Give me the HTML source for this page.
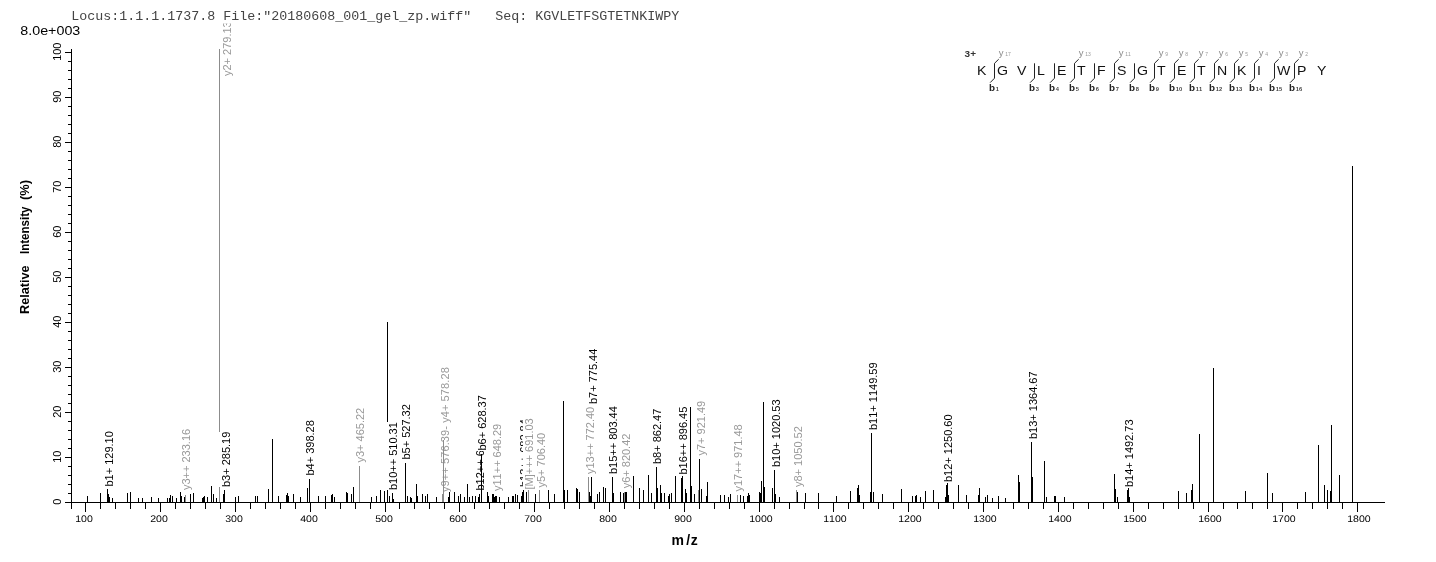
<!DOCTYPE html>
<html><head><meta charset="utf-8"><title>Spectrum</title>
<style>html,body{margin:0;padding:0;background:#fff}body{width:1436px;height:562px;overflow:hidden;position:relative}</style>
</head><body>
<svg width="1436" height="562" viewBox="0 0 1436 562" style="position:absolute;left:0;top:0;font-family:'Liberation Sans',Arial,sans-serif;font-kerning:none">
<rect width="1436" height="562" fill="#fff"/>
<g shape-rendering="crispEdges">
<rect x="87" y="496" width="1" height="6" fill="#000"/>
<rect x="100" y="493" width="1" height="9" fill="#000"/>
<rect x="107" y="489" width="1" height="13" fill="#000"/>
<rect x="102.0" y="431.1" width="13.0" height="55.4" fill="#fff"/>
<text shape-rendering="auto"  transform="translate(112.5,486.5) rotate(-90) scale(0.948,1)" font-size="11.6" fill="#000">b1+ 129.10</text>
<rect x="108" y="494" width="1" height="8" fill="#000"/>
<rect x="109" y="497" width="1" height="5" fill="#000"/>
<rect x="112" y="498" width="1" height="4" fill="#000"/>
<rect x="127" y="493" width="1" height="9" fill="#000"/>
<rect x="130" y="492" width="1" height="10" fill="#000"/>
<rect x="138" y="498" width="1" height="4" fill="#000"/>
<rect x="142" y="498" width="1" height="4" fill="#000"/>
<rect x="151" y="497" width="1" height="5" fill="#000"/>
<rect x="158" y="498" width="1" height="4" fill="#000"/>
<rect x="167" y="498" width="1" height="4" fill="#000"/>
<rect x="169" y="498" width="1" height="4" fill="#000"/>
<rect x="170" y="495" width="1" height="7" fill="#000"/>
<rect x="172" y="496" width="1" height="6" fill="#000"/>
<rect x="176" y="498" width="1" height="4" fill="#000"/>
<rect x="180" y="492" width="1" height="10" fill="#000"/>
<rect x="181" y="496" width="1" height="6" fill="#000"/>
<rect x="184" y="497" width="1" height="5" fill="#000"/>
<rect x="185" y="495" width="1" height="7" fill="#8c8c8c"/>
<rect x="179.5" y="428.8" width="13.0" height="61.2" fill="#fff"/>
<text shape-rendering="auto"  transform="translate(190,490) rotate(-90) scale(0.948,1)" font-size="11.6" fill="#999">y3++ 233.16</text>
<rect x="190" y="494" width="1" height="8" fill="#000"/>
<rect x="193" y="493" width="1" height="9" fill="#000"/>
<rect x="202" y="498" width="1" height="4" fill="#000"/>
<rect x="203" y="497" width="1" height="5" fill="#000"/>
<rect x="204" y="496" width="1" height="6" fill="#000"/>
<rect x="207" y="497" width="1" height="5" fill="#000"/>
<rect x="211" y="486" width="1" height="16" fill="#000"/>
<rect x="213" y="494" width="1" height="8" fill="#000"/>
<rect x="216" y="498" width="1" height="4" fill="#000"/>
<rect x="219" y="49" width="1" height="453" fill="#8c8c8c"/>
<rect x="220.5" y="21.3" width="13.0" height="54.7" fill="#fff"/>
<text shape-rendering="auto"  transform="translate(231,76) rotate(-90) scale(0.948,1)" font-size="11.6" fill="#999">y2+ 279.13</text>
<rect x="223" y="494" width="1" height="8" fill="#000"/>
<rect x="224" y="490" width="1" height="12" fill="#000"/>
<rect x="219.0" y="431.6" width="13.0" height="55.4" fill="#fff"/>
<text shape-rendering="auto"  transform="translate(229.5,487) rotate(-90) scale(0.948,1)" font-size="11.6" fill="#000">b3+ 285.19</text>
<rect x="235" y="497" width="1" height="5" fill="#000"/>
<rect x="238" y="496" width="1" height="6" fill="#000"/>
<rect x="255" y="496" width="1" height="6" fill="#000"/>
<rect x="257" y="496" width="1" height="6" fill="#000"/>
<rect x="268" y="489" width="1" height="13" fill="#000"/>
<rect x="272" y="439" width="1" height="63" fill="#000"/>
<rect x="278" y="496" width="1" height="6" fill="#000"/>
<rect x="286" y="495" width="1" height="7" fill="#000"/>
<rect x="287" y="493" width="1" height="9" fill="#000"/>
<rect x="288" y="496" width="1" height="6" fill="#000"/>
<rect x="293" y="494" width="1" height="8" fill="#000"/>
<rect x="300" y="497" width="1" height="5" fill="#000"/>
<rect x="307" y="488" width="1" height="14" fill="#000"/>
<rect x="309" y="479" width="1" height="23" fill="#000"/>
<rect x="303.8" y="420.1" width="13.0" height="55.4" fill="#fff"/>
<text shape-rendering="auto"  transform="translate(314.3,475.5) rotate(-90) scale(0.948,1)" font-size="11.6" fill="#000">b4+ 398.28</text>
<rect x="318" y="496" width="1" height="6" fill="#000"/>
<rect x="325" y="496" width="1" height="6" fill="#000"/>
<rect x="331" y="495" width="1" height="7" fill="#000"/>
<rect x="332" y="494" width="1" height="8" fill="#000"/>
<rect x="334" y="497" width="1" height="5" fill="#000"/>
<rect x="346" y="492" width="1" height="10" fill="#000"/>
<rect x="347" y="493" width="1" height="9" fill="#000"/>
<rect x="351" y="494" width="1" height="8" fill="#000"/>
<rect x="353" y="487" width="1" height="15" fill="#000"/>
<rect x="359" y="466" width="1" height="36" fill="#8c8c8c"/>
<rect x="353.8" y="407.8" width="13.0" height="54.7" fill="#fff"/>
<text shape-rendering="auto"  transform="translate(364.3,462.5) rotate(-90) scale(0.948,1)" font-size="11.6" fill="#999">y3+ 465.22</text>
<rect x="371" y="497" width="1" height="5" fill="#000"/>
<rect x="376" y="496" width="1" height="6" fill="#000"/>
<rect x="380" y="490" width="1" height="12" fill="#000"/>
<rect x="384" y="491" width="1" height="11" fill="#000"/>
<rect x="387" y="322" width="1" height="180" fill="#000"/>
<rect x="389" y="496" width="1" height="6" fill="#000"/>
<rect x="392" y="493" width="1" height="9" fill="#000"/>
<rect x="386.5" y="422.1" width="13.0" height="67.9" fill="#fff"/>
<text shape-rendering="auto"  transform="translate(397,490) rotate(-90) scale(0.948,1)" font-size="11.6" fill="#000">b10++ 510.31</text>
<rect x="393" y="499" width="1" height="3" fill="#000"/>
<rect x="405" y="463" width="1" height="39" fill="#000"/>
<rect x="399.5" y="404.1" width="13.0" height="55.4" fill="#fff"/>
<text shape-rendering="auto"  transform="translate(410,459.5) rotate(-90) scale(0.948,1)" font-size="11.6" fill="#000">b5+ 527.32</text>
<rect x="407" y="496" width="1" height="6" fill="#000"/>
<rect x="410" y="497" width="1" height="5" fill="#000"/>
<rect x="411" y="498" width="1" height="4" fill="#000"/>
<rect x="416" y="484" width="1" height="18" fill="#000"/>
<rect x="417" y="496" width="1" height="6" fill="#000"/>
<rect x="422" y="494" width="1" height="8" fill="#000"/>
<rect x="425" y="496" width="1" height="6" fill="#000"/>
<rect x="427" y="494" width="1" height="8" fill="#000"/>
<rect x="436" y="497" width="1" height="5" fill="#000"/>
<rect x="438.1" y="367.2" width="13.0" height="124.8" fill="#fff"/>
<text shape-rendering="auto" textLength="131.6" lengthAdjust="spacing"  transform="translate(448.6,492) rotate(-90) scale(0.948,1)" font-size="11.6" fill="#999">y9++ 576.39- y4+ 578.28</text>
<rect x="442" y="494" width="1" height="8" fill="#8c8c8c"/>
<rect x="443" y="440" width="1" height="62" fill="#8c8c8c"/>
<rect x="448" y="497" width="1" height="5" fill="#000"/>
<rect x="449" y="492" width="1" height="10" fill="#000"/>
<rect x="454" y="492" width="1" height="10" fill="#000"/>
<rect x="458" y="496" width="1" height="6" fill="#000"/>
<rect x="460" y="494" width="1" height="8" fill="#000"/>
<rect x="464" y="497" width="1" height="5" fill="#000"/>
<rect x="467" y="484" width="1" height="18" fill="#000"/>
<rect x="469" y="497" width="1" height="5" fill="#000"/>
<rect x="472" y="496" width="1" height="6" fill="#000"/>
<rect x="475" y="496" width="1" height="6" fill="#000"/>
<rect x="478" y="497" width="1" height="5" fill="#000"/>
<rect x="479" y="494" width="1" height="8" fill="#000"/>
<rect x="473.0" y="422.6" width="13.0" height="67.9" fill="#fff"/>
<text shape-rendering="auto"  transform="translate(483.5,490.5) rotate(-90) scale(0.948,1)" font-size="11.6" fill="#000">b12++ 625.80</text>
<rect x="481" y="454" width="1" height="48" fill="#000"/>
<rect x="475.8" y="395.1" width="13.0" height="55.4" fill="#fff"/>
<text shape-rendering="auto"  transform="translate(486.3,450.5) rotate(-90) scale(0.948,1)" font-size="11.6" fill="#000">b6+ 628.37</text>
<rect x="487" y="492" width="1" height="10" fill="#000"/>
<rect x="488" y="496" width="1" height="6" fill="#000"/>
<rect x="492" y="494" width="1" height="8" fill="#000"/>
<rect x="493" y="494" width="1" height="8" fill="#000"/>
<rect x="494" y="497" width="1" height="5" fill="#000"/>
<rect x="495" y="496" width="1" height="6" fill="#000"/>
<rect x="490.0" y="423.7" width="13.0" height="67.3" fill="#fff"/>
<text shape-rendering="auto"  transform="translate(500.5,491) rotate(-90) scale(0.948,1)" font-size="11.6" fill="#999">y11++ 648.29</text>
<rect x="496" y="496" width="1" height="6" fill="#000"/>
<rect x="499" y="497" width="1" height="5" fill="#000"/>
<rect x="508" y="497" width="1" height="5" fill="#000"/>
<rect x="512" y="496" width="1" height="6" fill="#000"/>
<rect x="513" y="496" width="1" height="6" fill="#000"/>
<rect x="515" y="494" width="1" height="8" fill="#000"/>
<rect x="517" y="495" width="1" height="7" fill="#000"/>
<rect x="521" y="496" width="1" height="6" fill="#000"/>
<rect x="522" y="492" width="1" height="10" fill="#000"/>
<rect x="523" y="490" width="1" height="12" fill="#000"/>
<rect x="517.1" y="419.1" width="13.0" height="67.9" fill="#fff"/>
<text shape-rendering="auto"  transform="translate(527.6,487) rotate(-90) scale(0.948,1)" font-size="11.6" fill="#000">b13++ 682.84</text>
<rect x="526" y="492" width="1" height="10" fill="#000"/>
<rect x="528" y="490" width="1" height="12" fill="#8c8c8c"/>
<rect x="523.3" y="418.3" width="11.7" height="71.2" fill="#fff"/>
<text shape-rendering="auto"  transform="translate(532.5,489.5) rotate(-90) scale(0.948,1)" font-size="11.6" fill="#999">[M]+++ 691.03</text>
<rect x="535" y="494" width="1" height="8" fill="#000"/>
<rect x="539" y="490" width="1" height="12" fill="#8c8c8c"/>
<rect x="534.5" y="432.8" width="13.0" height="54.7" fill="#fff"/>
<text shape-rendering="auto"  transform="translate(545,487.5) rotate(-90) scale(0.948,1)" font-size="11.6" fill="#999">y5+ 706.40</text>
<rect x="548" y="490" width="1" height="12" fill="#000"/>
<rect x="554" y="494" width="1" height="8" fill="#000"/>
<rect x="563" y="401" width="1" height="101" fill="#000"/>
<rect x="564" y="490" width="1" height="12" fill="#000"/>
<rect x="567" y="490" width="1" height="12" fill="#000"/>
<rect x="576" y="488" width="1" height="14" fill="#000"/>
<rect x="577" y="489" width="1" height="13" fill="#000"/>
<rect x="579" y="492" width="1" height="10" fill="#000"/>
<rect x="588" y="477" width="1" height="25" fill="#8c8c8c"/>
<rect x="583.8" y="406.7" width="13.0" height="67.3" fill="#fff"/>
<text shape-rendering="auto"  transform="translate(594.3,474) rotate(-90) scale(0.948,1)" font-size="11.6" fill="#999">y13++ 772.40</text>
<rect x="589" y="492" width="1" height="10" fill="#000"/>
<rect x="590" y="496" width="1" height="6" fill="#000"/>
<rect x="591" y="477" width="1" height="25" fill="#000"/>
<rect x="586.0" y="348.6" width="13.0" height="55.4" fill="#fff"/>
<text shape-rendering="auto"  transform="translate(596.5,404) rotate(-90) scale(0.948,1)" font-size="11.6" fill="#000">b7+ 775.44</text>
<rect x="597" y="494" width="1" height="8" fill="#000"/>
<rect x="599" y="492" width="1" height="10" fill="#000"/>
<rect x="603" y="487" width="1" height="15" fill="#000"/>
<rect x="605" y="488" width="1" height="14" fill="#000"/>
<rect x="612" y="477" width="1" height="25" fill="#000"/>
<rect x="606.5" y="406.1" width="13.0" height="67.9" fill="#fff"/>
<text shape-rendering="auto"  transform="translate(617,474) rotate(-90) scale(0.948,1)" font-size="11.6" fill="#000">b15++ 803.44</text>
<rect x="613" y="493" width="1" height="9" fill="#000"/>
<rect x="620" y="492" width="1" height="10" fill="#000"/>
<rect x="623" y="493" width="1" height="9" fill="#000"/>
<rect x="624" y="492" width="1" height="10" fill="#8c8c8c"/>
<rect x="619.0" y="433.6" width="13.0" height="54.7" fill="#fff"/>
<text shape-rendering="auto"  transform="translate(629.5,488.3) rotate(-90) scale(0.948,1)" font-size="11.6" fill="#999">y6+ 820.42</text>
<rect x="625" y="492" width="1" height="10" fill="#000"/>
<rect x="626" y="492" width="1" height="10" fill="#000"/>
<rect x="633" y="476" width="1" height="26" fill="#000"/>
<rect x="639" y="488" width="1" height="14" fill="#000"/>
<rect x="643" y="490" width="1" height="12" fill="#000"/>
<rect x="648" y="475" width="1" height="27" fill="#000"/>
<rect x="651" y="493" width="1" height="9" fill="#000"/>
<rect x="656" y="467" width="1" height="35" fill="#000"/>
<rect x="650.5" y="408.6" width="13.0" height="55.4" fill="#fff"/>
<text shape-rendering="auto"  transform="translate(661,464) rotate(-90) scale(0.948,1)" font-size="11.6" fill="#000">b8+ 862.47</text>
<rect x="657" y="488" width="1" height="14" fill="#000"/>
<rect x="660" y="485" width="1" height="17" fill="#000"/>
<rect x="661" y="493" width="1" height="9" fill="#000"/>
<rect x="664" y="493" width="1" height="9" fill="#000"/>
<rect x="668" y="496" width="1" height="6" fill="#000"/>
<rect x="669" y="494" width="1" height="8" fill="#000"/>
<rect x="671" y="493" width="1" height="9" fill="#000"/>
<rect x="675" y="476" width="1" height="26" fill="#000"/>
<rect x="681" y="478" width="1" height="24" fill="#000"/>
<rect x="682" y="476" width="1" height="26" fill="#000"/>
<rect x="676.0" y="406.6" width="13.0" height="67.9" fill="#fff"/>
<text shape-rendering="auto"  transform="translate(686.5,474.5) rotate(-90) scale(0.948,1)" font-size="11.6" fill="#000">b16++ 896.45</text>
<rect x="685" y="489" width="1" height="13" fill="#000"/>
<rect x="686" y="493" width="1" height="9" fill="#000"/>
<rect x="690" y="407" width="1" height="95" fill="#000"/>
<rect x="691" y="486" width="1" height="16" fill="#000"/>
<rect x="694" y="494" width="1" height="8" fill="#000"/>
<rect x="698" y="490" width="1" height="12" fill="#8c8c8c"/>
<rect x="699" y="459" width="1" height="43" fill="#000"/>
<rect x="694.5" y="400.8" width="13.0" height="54.7" fill="#fff"/>
<text shape-rendering="auto"  transform="translate(705,455.5) rotate(-90) scale(0.948,1)" font-size="11.6" fill="#999">y7+ 921.49</text>
<rect x="701" y="489" width="1" height="13" fill="#000"/>
<rect x="706" y="496" width="1" height="6" fill="#000"/>
<rect x="707" y="482" width="1" height="20" fill="#000"/>
<rect x="720" y="495" width="1" height="7" fill="#000"/>
<rect x="724" y="495" width="1" height="7" fill="#000"/>
<rect x="728" y="497" width="1" height="5" fill="#000"/>
<rect x="730" y="494" width="1" height="8" fill="#000"/>
<rect x="737" y="495" width="1" height="7" fill="#8c8c8c"/>
<rect x="731.5" y="424.2" width="13.0" height="67.3" fill="#fff"/>
<text shape-rendering="auto"  transform="translate(742,491.5) rotate(-90) scale(0.948,1)" font-size="11.6" fill="#999">y17++ 971.48</text>
<rect x="740" y="495" width="1" height="7" fill="#000"/>
<rect x="743" y="496" width="1" height="6" fill="#000"/>
<rect x="747" y="496" width="1" height="6" fill="#000"/>
<rect x="748" y="493" width="1" height="9" fill="#000"/>
<rect x="749" y="495" width="1" height="7" fill="#000"/>
<rect x="759" y="492" width="1" height="10" fill="#000"/>
<rect x="760" y="493" width="1" height="9" fill="#000"/>
<rect x="761" y="481" width="1" height="21" fill="#000"/>
<rect x="763" y="402" width="1" height="100" fill="#000"/>
<rect x="764" y="487" width="1" height="15" fill="#000"/>
<rect x="772" y="488" width="1" height="14" fill="#000"/>
<rect x="774" y="470" width="1" height="32" fill="#000"/>
<rect x="769.0" y="399.4" width="13.0" height="67.6" fill="#fff"/>
<text shape-rendering="auto"  transform="translate(779.5,467) rotate(-90) scale(0.948,1)" font-size="11.6" fill="#000">b10+ 1020.53</text>
<rect x="775" y="494" width="1" height="8" fill="#000"/>
<rect x="779" y="497" width="1" height="5" fill="#000"/>
<rect x="796" y="490" width="1" height="12" fill="#8c8c8c"/>
<rect x="791.5" y="426.1" width="13.0" height="60.9" fill="#fff"/>
<text shape-rendering="auto"  transform="translate(802,487) rotate(-90) scale(0.948,1)" font-size="11.6" fill="#999">y8+ 1050.52</text>
<rect x="797" y="492" width="1" height="10" fill="#000"/>
<rect x="805" y="493" width="1" height="9" fill="#000"/>
<rect x="818" y="493" width="1" height="9" fill="#000"/>
<rect x="836" y="496" width="1" height="6" fill="#000"/>
<rect x="850" y="491" width="1" height="11" fill="#000"/>
<rect x="857" y="488" width="1" height="14" fill="#000"/>
<rect x="858" y="485" width="1" height="17" fill="#000"/>
<rect x="859" y="495" width="1" height="7" fill="#000"/>
<rect x="870" y="492" width="1" height="10" fill="#000"/>
<rect x="871" y="433" width="1" height="69" fill="#000"/>
<rect x="866.0" y="362.4" width="13.0" height="67.6" fill="#fff"/>
<text shape-rendering="auto"  transform="translate(876.5,430) rotate(-90) scale(0.948,1)" font-size="11.6" fill="#000">b11+ 1149.59</text>
<rect x="873" y="492" width="1" height="10" fill="#000"/>
<rect x="882" y="494" width="1" height="8" fill="#000"/>
<rect x="901" y="489" width="1" height="13" fill="#000"/>
<rect x="912" y="496" width="1" height="6" fill="#000"/>
<rect x="915" y="496" width="1" height="6" fill="#000"/>
<rect x="916" y="495" width="1" height="7" fill="#000"/>
<rect x="920" y="497" width="1" height="5" fill="#000"/>
<rect x="925" y="491" width="1" height="11" fill="#000"/>
<rect x="933" y="490" width="1" height="12" fill="#000"/>
<rect x="945" y="497" width="1" height="5" fill="#000"/>
<rect x="946" y="485" width="1" height="17" fill="#000"/>
<rect x="947" y="483" width="1" height="19" fill="#000"/>
<rect x="941.3" y="414.4" width="13.0" height="67.6" fill="#fff"/>
<text shape-rendering="auto"  transform="translate(951.8,482) rotate(-90) scale(0.948,1)" font-size="11.6" fill="#000">b12+ 1250.60</text>
<rect x="948" y="495" width="1" height="7" fill="#000"/>
<rect x="958" y="485" width="1" height="17" fill="#000"/>
<rect x="966" y="495" width="1" height="7" fill="#000"/>
<rect x="978" y="495" width="1" height="7" fill="#000"/>
<rect x="979" y="488" width="1" height="14" fill="#000"/>
<rect x="985" y="497" width="1" height="5" fill="#000"/>
<rect x="987" y="495" width="1" height="7" fill="#000"/>
<rect x="992" y="498" width="1" height="4" fill="#000"/>
<rect x="998" y="496" width="1" height="6" fill="#000"/>
<rect x="1005" y="498" width="1" height="4" fill="#000"/>
<rect x="1018" y="475" width="1" height="27" fill="#000"/>
<rect x="1019" y="482" width="1" height="20" fill="#000"/>
<rect x="1031" y="442" width="1" height="60" fill="#000"/>
<rect x="1026.2" y="371.4" width="13.0" height="67.6" fill="#fff"/>
<text shape-rendering="auto"  transform="translate(1036.7,439) rotate(-90) scale(0.948,1)" font-size="11.6" fill="#000">b13+ 1364.67</text>
<rect x="1032" y="477" width="1" height="25" fill="#000"/>
<rect x="1044" y="461" width="1" height="41" fill="#000"/>
<rect x="1046" y="497" width="1" height="5" fill="#000"/>
<rect x="1054" y="496" width="1" height="6" fill="#000"/>
<rect x="1055" y="496" width="1" height="6" fill="#000"/>
<rect x="1064" y="497" width="1" height="5" fill="#000"/>
<rect x="1114" y="474" width="1" height="28" fill="#000"/>
<rect x="1115" y="489" width="1" height="13" fill="#000"/>
<rect x="1117" y="497" width="1" height="5" fill="#000"/>
<rect x="1127" y="490" width="1" height="12" fill="#000"/>
<rect x="1128" y="488" width="1" height="14" fill="#000"/>
<rect x="1122.0" y="419.4" width="13.0" height="67.6" fill="#fff"/>
<text shape-rendering="auto"  transform="translate(1132.5,487) rotate(-90) scale(0.948,1)" font-size="11.6" fill="#000">b14+ 1492.73</text>
<rect x="1129" y="497" width="1" height="5" fill="#000"/>
<rect x="1178" y="491" width="1" height="11" fill="#000"/>
<rect x="1186" y="493" width="1" height="9" fill="#000"/>
<rect x="1191" y="490" width="1" height="12" fill="#000"/>
<rect x="1192" y="484" width="1" height="18" fill="#000"/>
<rect x="1199" y="434" width="1" height="68" fill="#000"/>
<rect x="1213" y="368" width="1" height="134" fill="#000"/>
<rect x="1245" y="491" width="1" height="11" fill="#000"/>
<rect x="1267" y="473" width="1" height="29" fill="#000"/>
<rect x="1272" y="493" width="1" height="9" fill="#000"/>
<rect x="1305" y="492" width="1" height="10" fill="#000"/>
<rect x="1318" y="445" width="1" height="57" fill="#000"/>
<rect x="1324" y="485" width="1" height="17" fill="#000"/>
<rect x="1327" y="490" width="1" height="12" fill="#000"/>
<rect x="1330" y="491" width="1" height="11" fill="#000"/>
<rect x="1331" y="425" width="1" height="77" fill="#000"/>
<rect x="1339" y="475" width="1" height="27" fill="#000"/>
<rect x="1352" y="166" width="1" height="336" fill="#000"/>
</g>
<rect x="68" y="4" width="616" height="19.5" fill="#fff"/>
<text x="71.3" y="20" font-family="'Liberation Mono',monospace" font-size="13.33" fill="#444" style="white-space:pre">Locus:1.1.1.1737.8 File:"20180608_001_gel_zp.wiff"   Seq: KGVLETFSGTETNKIWPY</text>
<g shape-rendering="crispEdges" fill="#000">
<rect x="71" y="49" width="1" height="460"/>
<rect x="71" y="502" width="1314" height="1"/>
<rect x="65" y="502" width="6" height="1"/>
<rect x="68" y="493" width="3" height="1"/>
<rect x="68" y="484" width="3" height="1"/>
<rect x="68" y="475" width="3" height="1"/>
<rect x="68" y="466" width="3" height="1"/>
<rect x="65" y="457" width="6" height="1"/>
<rect x="68" y="448" width="3" height="1"/>
<rect x="68" y="439" width="3" height="1"/>
<rect x="68" y="430" width="3" height="1"/>
<rect x="68" y="421" width="3" height="1"/>
<rect x="65" y="412" width="6" height="1"/>
<rect x="68" y="403" width="3" height="1"/>
<rect x="68" y="394" width="3" height="1"/>
<rect x="68" y="385" width="3" height="1"/>
<rect x="68" y="376" width="3" height="1"/>
<rect x="65" y="367" width="6" height="1"/>
<rect x="68" y="358" width="3" height="1"/>
<rect x="68" y="349" width="3" height="1"/>
<rect x="68" y="340" width="3" height="1"/>
<rect x="68" y="331" width="3" height="1"/>
<rect x="65" y="322" width="6" height="1"/>
<rect x="68" y="313" width="3" height="1"/>
<rect x="68" y="304" width="3" height="1"/>
<rect x="68" y="295" width="3" height="1"/>
<rect x="68" y="286" width="3" height="1"/>
<rect x="65" y="277" width="6" height="1"/>
<rect x="68" y="268" width="3" height="1"/>
<rect x="68" y="259" width="3" height="1"/>
<rect x="68" y="250" width="3" height="1"/>
<rect x="68" y="241" width="3" height="1"/>
<rect x="65" y="232" width="6" height="1"/>
<rect x="68" y="223" width="3" height="1"/>
<rect x="68" y="214" width="3" height="1"/>
<rect x="68" y="205" width="3" height="1"/>
<rect x="68" y="196" width="3" height="1"/>
<rect x="65" y="187" width="6" height="1"/>
<rect x="68" y="178" width="3" height="1"/>
<rect x="68" y="169" width="3" height="1"/>
<rect x="68" y="160" width="3" height="1"/>
<rect x="68" y="151" width="3" height="1"/>
<rect x="65" y="142" width="6" height="1"/>
<rect x="68" y="133" width="3" height="1"/>
<rect x="68" y="124" width="3" height="1"/>
<rect x="68" y="115" width="3" height="1"/>
<rect x="68" y="106" width="3" height="1"/>
<rect x="65" y="97" width="6" height="1"/>
<rect x="68" y="88" width="3" height="1"/>
<rect x="68" y="79" width="3" height="1"/>
<rect x="68" y="70" width="3" height="1"/>
<rect x="68" y="61" width="3" height="1"/>
<rect x="65" y="52" width="6" height="1"/>
<rect x="85" y="503" width="1" height="9"/>
<rect x="100" y="503" width="1" height="6"/>
<rect x="115" y="503" width="1" height="6"/>
<rect x="130" y="503" width="1" height="6"/>
<rect x="145" y="503" width="1" height="6"/>
<rect x="160" y="503" width="1" height="9"/>
<rect x="175" y="503" width="1" height="6"/>
<rect x="190" y="503" width="1" height="6"/>
<rect x="205" y="503" width="1" height="6"/>
<rect x="220" y="503" width="1" height="6"/>
<rect x="235" y="503" width="1" height="9"/>
<rect x="250" y="503" width="1" height="6"/>
<rect x="265" y="503" width="1" height="6"/>
<rect x="280" y="503" width="1" height="6"/>
<rect x="295" y="503" width="1" height="6"/>
<rect x="310" y="503" width="1" height="9"/>
<rect x="325" y="503" width="1" height="6"/>
<rect x="340" y="503" width="1" height="6"/>
<rect x="355" y="503" width="1" height="6"/>
<rect x="370" y="503" width="1" height="6"/>
<rect x="385" y="503" width="1" height="9"/>
<rect x="399" y="503" width="1" height="6"/>
<rect x="414" y="503" width="1" height="6"/>
<rect x="429" y="503" width="1" height="6"/>
<rect x="444" y="503" width="1" height="6"/>
<rect x="459" y="503" width="1" height="9"/>
<rect x="474" y="503" width="1" height="6"/>
<rect x="489" y="503" width="1" height="6"/>
<rect x="504" y="503" width="1" height="6"/>
<rect x="519" y="503" width="1" height="6"/>
<rect x="534" y="503" width="1" height="9"/>
<rect x="549" y="503" width="1" height="6"/>
<rect x="564" y="503" width="1" height="6"/>
<rect x="579" y="503" width="1" height="6"/>
<rect x="594" y="503" width="1" height="6"/>
<rect x="609" y="503" width="1" height="9"/>
<rect x="624" y="503" width="1" height="6"/>
<rect x="639" y="503" width="1" height="6"/>
<rect x="654" y="503" width="1" height="6"/>
<rect x="669" y="503" width="1" height="6"/>
<rect x="684" y="503" width="1" height="9"/>
<rect x="699" y="503" width="1" height="6"/>
<rect x="714" y="503" width="1" height="6"/>
<rect x="729" y="503" width="1" height="6"/>
<rect x="744" y="503" width="1" height="6"/>
<rect x="759" y="503" width="1" height="9"/>
<rect x="774" y="503" width="1" height="6"/>
<rect x="789" y="503" width="1" height="6"/>
<rect x="804" y="503" width="1" height="6"/>
<rect x="818" y="503" width="1" height="6"/>
<rect x="833" y="503" width="1" height="9"/>
<rect x="848" y="503" width="1" height="6"/>
<rect x="863" y="503" width="1" height="6"/>
<rect x="878" y="503" width="1" height="6"/>
<rect x="893" y="503" width="1" height="6"/>
<rect x="908" y="503" width="1" height="9"/>
<rect x="923" y="503" width="1" height="6"/>
<rect x="938" y="503" width="1" height="6"/>
<rect x="953" y="503" width="1" height="6"/>
<rect x="968" y="503" width="1" height="6"/>
<rect x="983" y="503" width="1" height="9"/>
<rect x="998" y="503" width="1" height="6"/>
<rect x="1013" y="503" width="1" height="6"/>
<rect x="1028" y="503" width="1" height="6"/>
<rect x="1043" y="503" width="1" height="6"/>
<rect x="1058" y="503" width="1" height="9"/>
<rect x="1073" y="503" width="1" height="6"/>
<rect x="1088" y="503" width="1" height="6"/>
<rect x="1103" y="503" width="1" height="6"/>
<rect x="1118" y="503" width="1" height="6"/>
<rect x="1133" y="503" width="1" height="9"/>
<rect x="1148" y="503" width="1" height="6"/>
<rect x="1163" y="503" width="1" height="6"/>
<rect x="1178" y="503" width="1" height="6"/>
<rect x="1193" y="503" width="1" height="6"/>
<rect x="1208" y="503" width="1" height="9"/>
<rect x="1223" y="503" width="1" height="6"/>
<rect x="1237" y="503" width="1" height="6"/>
<rect x="1252" y="503" width="1" height="6"/>
<rect x="1267" y="503" width="1" height="6"/>
<rect x="1282" y="503" width="1" height="9"/>
<rect x="1297" y="503" width="1" height="6"/>
<rect x="1312" y="503" width="1" height="6"/>
<rect x="1327" y="503" width="1" height="6"/>
<rect x="1342" y="503" width="1" height="6"/>
<rect x="1357" y="503" width="1" height="9"/>
</g>
<text transform="translate(61,501.7) rotate(-90)" font-size="11" text-anchor="middle" fill="#000">0</text>
<text transform="translate(61,456.7) rotate(-90)" font-size="11" text-anchor="middle" fill="#000">10</text>
<text transform="translate(61,411.7) rotate(-90)" font-size="11" text-anchor="middle" fill="#000">20</text>
<text transform="translate(61,366.7) rotate(-90)" font-size="11" text-anchor="middle" fill="#000">30</text>
<text transform="translate(61,321.7) rotate(-90)" font-size="11" text-anchor="middle" fill="#000">40</text>
<text transform="translate(61,276.7) rotate(-90)" font-size="11" text-anchor="middle" fill="#000">50</text>
<text transform="translate(61,231.7) rotate(-90)" font-size="11" text-anchor="middle" fill="#000">60</text>
<text transform="translate(61,186.7) rotate(-90)" font-size="11" text-anchor="middle" fill="#000">70</text>
<text transform="translate(61,141.7) rotate(-90)" font-size="11" text-anchor="middle" fill="#000">80</text>
<text transform="translate(61,96.7) rotate(-90)" font-size="11" text-anchor="middle" fill="#000">90</text>
<text transform="translate(61,51.7) rotate(-90)" font-size="11" text-anchor="middle" fill="#000">100</text>
<text transform="translate(75.2,522) scale(1.1,1)" text-rendering="geometricPrecision" font-size="9.6" fill="#000">100</text>
<text transform="translate(150.2,522) scale(1.1,1)" text-rendering="geometricPrecision" font-size="9.6" fill="#000">200</text>
<text transform="translate(225.2,522) scale(1.1,1)" text-rendering="geometricPrecision" font-size="9.6" fill="#000">300</text>
<text transform="translate(300.2,522) scale(1.1,1)" text-rendering="geometricPrecision" font-size="9.6" fill="#000">400</text>
<text transform="translate(375.2,522) scale(1.1,1)" text-rendering="geometricPrecision" font-size="9.6" fill="#000">500</text>
<text transform="translate(449.2,522) scale(1.1,1)" text-rendering="geometricPrecision" font-size="9.6" fill="#000">600</text>
<text transform="translate(524.2,522) scale(1.1,1)" text-rendering="geometricPrecision" font-size="9.6" fill="#000">700</text>
<text transform="translate(599.2,522) scale(1.1,1)" text-rendering="geometricPrecision" font-size="9.6" fill="#000">800</text>
<text transform="translate(674.2,522) scale(1.1,1)" text-rendering="geometricPrecision" font-size="9.6" fill="#000">900</text>
<text transform="translate(749.2,522) scale(1.1,1)" text-rendering="geometricPrecision" font-size="9.6" fill="#000">1000</text>
<text transform="translate(823.2,522) scale(1.1,1)" text-rendering="geometricPrecision" font-size="9.6" fill="#000">1100</text>
<text transform="translate(898.2,522) scale(1.1,1)" text-rendering="geometricPrecision" font-size="9.6" fill="#000">1200</text>
<text transform="translate(973.2,522) scale(1.1,1)" text-rendering="geometricPrecision" font-size="9.6" fill="#000">1300</text>
<text transform="translate(1048.2,522) scale(1.1,1)" text-rendering="geometricPrecision" font-size="9.6" fill="#000">1400</text>
<text transform="translate(1123.2,522) scale(1.1,1)" text-rendering="geometricPrecision" font-size="9.6" fill="#000">1500</text>
<text transform="translate(1198.2,522) scale(1.1,1)" text-rendering="geometricPrecision" font-size="9.6" fill="#000">1600</text>
<text transform="translate(1272.2,522) scale(1.1,1)" text-rendering="geometricPrecision" font-size="9.6" fill="#000">1700</text>
<text transform="translate(1347.2,522) scale(1.1,1)" text-rendering="geometricPrecision" font-size="9.6" fill="#000">1800</text>
<text transform="translate(20.3,35) scale(1.1,1)" font-size="13" fill="#000">8.0e+003</text>
<text transform="translate(29.2,314) rotate(-90)" font-size="12.3" font-weight="bold" fill="#000"><tspan x="0" textLength="48.5" lengthAdjust="spacingAndGlyphs">Relative</tspan><tspan x="60" textLength="47.5" lengthAdjust="spacingAndGlyphs">Intensity</tspan><tspan x="114" textLength="20" lengthAdjust="spacingAndGlyphs">(%)</tspan></text>
<text y="545" font-size="14" font-weight="bold" fill="#000"><tspan x="671.4">m</tspan><tspan x="686.3">/</tspan><tspan x="690.8">z</tspan></text>
<text transform="translate(977.1,74.8) scale(1.15,1)" font-size="12.3" fill="#111">K</text>
<text transform="translate(997.1,74.8) scale(1.15,1)" font-size="12.3" fill="#111">G</text>
<text transform="translate(1017.1,74.8) scale(1.15,1)" font-size="12.3" fill="#111">V</text>
<text transform="translate(1037.1,74.8) scale(1.15,1)" font-size="12.3" fill="#111">L</text>
<text transform="translate(1057.1,74.8) scale(1.15,1)" font-size="12.3" fill="#111">E</text>
<text transform="translate(1077.1,74.8) scale(1.15,1)" font-size="12.3" fill="#111">T</text>
<text transform="translate(1097.1,74.8) scale(1.15,1)" font-size="12.3" fill="#111">F</text>
<text transform="translate(1117.1,74.8) scale(1.15,1)" font-size="12.3" fill="#111">S</text>
<text transform="translate(1137.1,74.8) scale(1.15,1)" font-size="12.3" fill="#111">G</text>
<text transform="translate(1157.1,74.8) scale(1.15,1)" font-size="12.3" fill="#111">T</text>
<text transform="translate(1177.1,74.8) scale(1.15,1)" font-size="12.3" fill="#111">E</text>
<text transform="translate(1197.1,74.8) scale(1.15,1)" font-size="12.3" fill="#111">T</text>
<text transform="translate(1217.1,74.8) scale(1.15,1)" font-size="12.3" fill="#111">N</text>
<text transform="translate(1237.1,74.8) scale(1.15,1)" font-size="12.3" fill="#111">K</text>
<text transform="translate(1257.1,74.8) scale(1.15,1)" font-size="12.3" fill="#111">I</text>
<text transform="translate(1277.1,74.8) scale(1.15,1)" font-size="12.3" fill="#111">W</text>
<text transform="translate(1297.1,74.8) scale(1.15,1)" font-size="12.3" fill="#111">P</text>
<text transform="translate(1317.1,74.8) scale(1.15,1)" font-size="12.3" fill="#111">Y</text>
<text x="964.6" y="57.2" font-size="8.6" font-weight="bold" fill="#333" textLength="11.4" lengthAdjust="spacingAndGlyphs">3+</text>
<polyline fill="none" stroke="#222" stroke-width="1" points="998.7,59.2 994.5,63.3 994.5,78.2 990.2,82.6"/>
<text transform="translate(989.1,90.7) scale(1.15,1)" font-size="8.6" font-weight="bold" fill="#222">b<tspan font-size="5" dx="0.5" fill="#444">1</tspan></text>
<text x="998.8" y="55.6" font-size="9.5" fill="#8c8c8c">y<tspan font-size="5" dx="1.6" fill="#999">17</tspan></text>
<polyline fill="none" stroke="#222" stroke-width="1" points="1034.5,63.3 1034.5,78.2 1030.2,82.6"/>
<text transform="translate(1029.1,90.7) scale(1.15,1)" font-size="8.6" font-weight="bold" fill="#222">b<tspan font-size="5" dx="0.5" fill="#444">3</tspan></text>
<polyline fill="none" stroke="#222" stroke-width="1" points="1054.5,63.3 1054.5,78.2 1050.2,82.6"/>
<text transform="translate(1049.1,90.7) scale(1.15,1)" font-size="8.6" font-weight="bold" fill="#222">b<tspan font-size="5" dx="0.5" fill="#444">4</tspan></text>
<polyline fill="none" stroke="#222" stroke-width="1" points="1078.7,59.2 1074.5,63.3 1074.5,78.2 1070.2,82.6"/>
<text transform="translate(1069.1,90.7) scale(1.15,1)" font-size="8.6" font-weight="bold" fill="#222">b<tspan font-size="5" dx="0.5" fill="#444">5</tspan></text>
<text x="1078.8" y="55.6" font-size="9.5" fill="#8c8c8c">y<tspan font-size="5" dx="1.6" fill="#999">13</tspan></text>
<polyline fill="none" stroke="#222" stroke-width="1" points="1094.5,63.3 1094.5,78.2 1090.2,82.6"/>
<text transform="translate(1089.1,90.7) scale(1.15,1)" font-size="8.6" font-weight="bold" fill="#222">b<tspan font-size="5" dx="0.5" fill="#444">6</tspan></text>
<polyline fill="none" stroke="#222" stroke-width="1" points="1118.7,59.2 1114.5,63.3 1114.5,78.2 1110.2,82.6"/>
<text transform="translate(1109.1,90.7) scale(1.15,1)" font-size="8.6" font-weight="bold" fill="#222">b<tspan font-size="5" dx="0.5" fill="#444">7</tspan></text>
<text x="1118.8" y="55.6" font-size="9.5" fill="#8c8c8c">y<tspan font-size="5" dx="1.6" fill="#999">11</tspan></text>
<polyline fill="none" stroke="#222" stroke-width="1" points="1134.5,63.3 1134.5,78.2 1130.2,82.6"/>
<text transform="translate(1129.1,90.7) scale(1.15,1)" font-size="8.6" font-weight="bold" fill="#222">b<tspan font-size="5" dx="0.5" fill="#444">8</tspan></text>
<polyline fill="none" stroke="#222" stroke-width="1" points="1158.7,59.2 1154.5,63.3 1154.5,78.2 1150.2,82.6"/>
<text transform="translate(1149.1,90.7) scale(1.15,1)" font-size="8.6" font-weight="bold" fill="#222">b<tspan font-size="5" dx="0.5" fill="#444">9</tspan></text>
<text x="1158.8" y="55.6" font-size="9.5" fill="#8c8c8c">y<tspan font-size="5" dx="1.6" fill="#999">9</tspan></text>
<polyline fill="none" stroke="#222" stroke-width="1" points="1178.7,59.2 1174.5,63.3 1174.5,78.2 1170.2,82.6"/>
<text transform="translate(1169.1,90.7) scale(1.15,1)" font-size="8.6" font-weight="bold" fill="#222">b<tspan font-size="5" dx="0.5" fill="#444">10</tspan></text>
<text x="1178.8" y="55.6" font-size="9.5" fill="#8c8c8c">y<tspan font-size="5" dx="1.6" fill="#999">8</tspan></text>
<polyline fill="none" stroke="#222" stroke-width="1" points="1198.7,59.2 1194.5,63.3 1194.5,78.2 1190.2,82.6"/>
<text transform="translate(1189.1,90.7) scale(1.15,1)" font-size="8.6" font-weight="bold" fill="#222">b<tspan font-size="5" dx="0.5" fill="#444">11</tspan></text>
<text x="1198.8" y="55.6" font-size="9.5" fill="#8c8c8c">y<tspan font-size="5" dx="1.6" fill="#999">7</tspan></text>
<polyline fill="none" stroke="#222" stroke-width="1" points="1218.7,59.2 1214.5,63.3 1214.5,78.2 1210.2,82.6"/>
<text transform="translate(1209.1,90.7) scale(1.15,1)" font-size="8.6" font-weight="bold" fill="#222">b<tspan font-size="5" dx="0.5" fill="#444">12</tspan></text>
<text x="1218.8" y="55.6" font-size="9.5" fill="#8c8c8c">y<tspan font-size="5" dx="1.6" fill="#999">6</tspan></text>
<polyline fill="none" stroke="#222" stroke-width="1" points="1238.7,59.2 1234.5,63.3 1234.5,78.2 1230.2,82.6"/>
<text transform="translate(1229.1,90.7) scale(1.15,1)" font-size="8.6" font-weight="bold" fill="#222">b<tspan font-size="5" dx="0.5" fill="#444">13</tspan></text>
<text x="1238.8" y="55.6" font-size="9.5" fill="#8c8c8c">y<tspan font-size="5" dx="1.6" fill="#999">5</tspan></text>
<polyline fill="none" stroke="#222" stroke-width="1" points="1258.7,59.2 1254.5,63.3 1254.5,78.2 1250.2,82.6"/>
<text transform="translate(1249.1,90.7) scale(1.15,1)" font-size="8.6" font-weight="bold" fill="#222">b<tspan font-size="5" dx="0.5" fill="#444">14</tspan></text>
<text x="1258.8" y="55.6" font-size="9.5" fill="#8c8c8c">y<tspan font-size="5" dx="1.6" fill="#999">4</tspan></text>
<polyline fill="none" stroke="#222" stroke-width="1" points="1278.7,59.2 1274.5,63.3 1274.5,78.2 1270.2,82.6"/>
<text transform="translate(1269.1,90.7) scale(1.15,1)" font-size="8.6" font-weight="bold" fill="#222">b<tspan font-size="5" dx="0.5" fill="#444">15</tspan></text>
<text x="1278.8" y="55.6" font-size="9.5" fill="#8c8c8c">y<tspan font-size="5" dx="1.6" fill="#999">3</tspan></text>
<polyline fill="none" stroke="#222" stroke-width="1" points="1298.7,59.2 1294.5,63.3 1294.5,78.2 1290.2,82.6"/>
<text transform="translate(1289.1,90.7) scale(1.15,1)" font-size="8.6" font-weight="bold" fill="#222">b<tspan font-size="5" dx="0.5" fill="#444">16</tspan></text>
<text x="1298.8" y="55.6" font-size="9.5" fill="#8c8c8c">y<tspan font-size="5" dx="1.6" fill="#999">2</tspan></text>
</svg>
</body></html>
